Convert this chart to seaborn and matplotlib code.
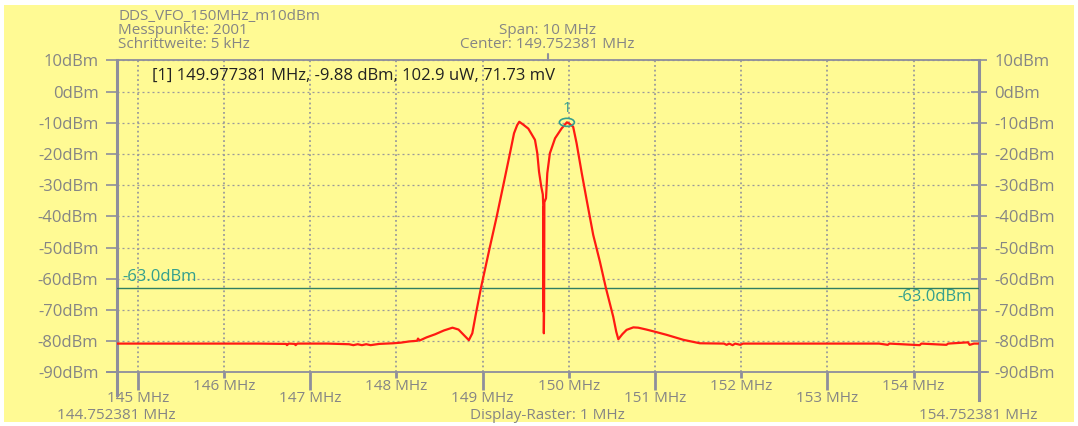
import matplotlib
matplotlib.use("Agg")
import matplotlib.pyplot as plt
from matplotlib.patches import Ellipse, Rectangle
import pandas as pd
import seaborn as sns

# Sweep settings
start_mhz = 144.752381
stop_mhz = 154.752381
center_mhz = 149.752381
title = "DDS_VFO_150MHz_m10dBm"
points_text = "Messpunkte: 2001"
step_text = "Schrittweite: 5 kHz"
span_text = "Span: 10 MHz"
center_text = "Center: 149.752381 MHz"
raster_text = "Display-Raster: 1 MHz"

# Measured trace (frequency in MHz, level in dBm)
freq_mhz = [
    144.752, 145.30, 145.90, 146.40, 146.72, 146.73, 146.75, 146.82, 146.83, 146.85,
    147.20, 147.45, 147.50, 147.55, 147.60, 147.65, 147.70, 147.80, 147.96, 148.05,
    148.15, 148.24, 148.25, 148.27, 148.35, 148.45, 148.55, 148.65, 148.72, 148.78,
    148.84, 148.88, 148.92, 148.98, 149.085, 149.163, 149.24, 149.317, 149.364, 149.40,
    149.425, 149.47, 149.53, 149.607, 149.634, 149.654, 149.68, 149.698, 149.703, 149.706,
    149.708, 149.710, 149.713, 149.716, 149.735, 149.75, 149.78, 149.84, 149.917, 149.955,
    149.977, 150.00, 150.05, 150.09, 150.15, 150.207, 150.283, 150.36, 150.43, 150.515,
    150.55, 150.574, 150.62, 150.67, 150.748, 150.805, 150.90, 151.00, 151.135, 151.33,
    151.52, 151.80, 151.83, 151.86, 151.90, 151.93, 151.99, 152.02, 152.50, 153.00,
    153.60, 153.70, 153.72, 154.07, 154.09, 154.38, 154.40, 154.63, 154.65, 154.70,
    154.752,
]
level_dbm = [
    -80.8, -80.8, -80.8, -80.8, -80.9, -81.3, -80.8, -80.9, -81.3, -80.8,
    -80.8, -81.0, -81.3, -81.0, -81.3, -81.0, -81.3, -80.9, -80.7, -80.5,
    -80.1, -79.9, -79.2, -79.8, -78.8, -77.8, -76.6, -75.7, -76.3, -78.0,
    -79.7, -77.5, -71.5, -63.0, -49.7, -40.1, -30.0, -19.8, -13.4, -10.8,
    -9.7, -10.6, -11.9, -15.5, -19.8, -25.7, -30.5, -33.0, -36.5, -70.5,
    -37.0, -77.5, -70.0, -35.5, -34.2, -26.2, -19.8, -15.0, -11.8, -10.6,
    -9.88, -10.2, -11.3, -16.6, -26.2, -34.8, -46.0, -54.5, -63.0, -72.2,
    -77.0, -79.4, -77.8, -76.4, -75.6, -75.7, -76.3, -77.0, -78.0, -79.6,
    -80.7, -80.8, -81.2, -80.8, -81.3, -80.8, -81.2, -80.8, -80.8, -80.8,
    -80.8, -81.2, -80.8, -81.3, -80.8, -81.2, -80.8, -80.4, -81.2, -80.8,
    -80.8,
]

# Marker and reference line
marker_freq = 149.977381
marker_level = -9.88
marker_text = "[1] 149.977381 MHz, -9.88 dBm, 102.9 uW, 71.73 mV"
ref_level = -63.0

# Axis ticks
y_ticks = [10, 0, -10, -20, -30, -40, -50, -60, -70, -80, -90]
y_labels = [f"{v}dBm" for v in y_ticks]
x_ticks_even = [146, 148, 150, 152, 154]
x_ticks_odd = [145, 147, 149, 151, 153]

BG = "#fffa94"
AXIS = "#8e8e9c"
TEXT = "#858585"
TEAL = "#35a08e"
REFLINE = "#2f7f62"
TRACE = "#ff1a12"

W, H = 1078, 426
sns.set_theme(style="white")
plt.rcParams["font.family"] = ["Open Sans", "DejaVu Sans"]
FS = 12
FS_HEAD = 11
FS_X = 11

fig = plt.figure(figsize=(W / 100, H / 100), dpi=100, facecolor="white")
fig.patches.append(Rectangle((4 / W, 4 / H), 1070 / W, 417 / H, transform=fig.transFigure,
                             facecolor=BG, edgecolor="none", zorder=-10))

left_px, right_px, top_px, bottom_px = 116.5, 978.5, 60.3, 372.3
ax = fig.add_axes([left_px / W, 1 - bottom_px / H, (right_px - left_px) / W, (bottom_px - top_px) / H])
ax.set_facecolor("none")

df = pd.DataFrame({"freq": freq_mhz, "level": level_dbm})
sns.lineplot(data=df, x="freq", y="level", ax=ax, color=TRACE, lw=1.6,
             sort=False, estimator=None, zorder=5)

ax.set_xlim(start_mhz, stop_mhz)
ax.set_ylim(-90, 10)
ax.set_xlabel("")
ax.set_ylabel("")

# Grid
ax.set_xticks(x_ticks_even)
ax.set_xticklabels([f"{v} MHz" for v in x_ticks_even])
ax.set_xticks(x_ticks_odd, minor=True)
ax.set_xticklabels([f"{v} MHz" for v in x_ticks_odd], minor=True)
ax.set_yticks(y_ticks)
ax.set_yticklabels(y_labels)
ax.grid(True, which="both", axis="x", color="#9a9a9a", lw=1.3, ls=(0, (1.0, 1.6)))
ax.grid(True, which="major", axis="y", color="#9a9a9a", lw=0.9, ls=(0, (1.6, 2.4)))

ax.tick_params(axis="x", which="major", direction="out", length=4, width=2.0,
               color=AXIS, labelcolor=TEXT, labelsize=FS_X, pad=1.0, bottom=True)
ax.tick_params(axis="x", which="minor", direction="out", length=13, width=2.0,
               color=AXIS, labelcolor=TEXT, labelsize=FS_X, pad=0.8, bottom=True)
ax.tick_params(axis="y", which="major", direction="out", length=8, width=1.2,
               color=AXIS, labelcolor=TEXT, labelsize=FS, pad=5, left=True)

# Right-hand level scale
sec = ax.secondary_yaxis("right")
sec.set_yticks(y_ticks)
sec.set_yticklabels(y_labels)
sec.tick_params(axis="y", direction="inout", length=11.5, width=1.2, color=AXIS,
                labelcolor=TEXT, labelsize=FS, pad=5.5)
sec.spines["right"].set_visible(False)

for name, sp in ax.spines.items():
    sp.set_visible(True)
    sp.set_color(AXIS)
    sp.set_linewidth(1.3)
ax.spines["left"].set_linewidth(2.2)
ax.spines["right"].set_linewidth(2.2)
ax.spines["left"].set_bounds(-97.3, 10)
ax.spines["right"].set_bounds(-98.9, 10)
ax.spines["bottom"].set_bounds(144.642, 154.862)

# Reference level
ax.axhline(ref_level, color=REFLINE, lw=1.0, zorder=4)
ax.text(start_mhz + 5.5 / 86.2, -59.5, "-63.0dBm", color=TEAL, fontsize=FS,
        ha="left", va="center")
ax.text(stop_mhz - 7.0 / 86.2, -65.8, "-63.0dBm", color=TEAL, fontsize=FS,
        ha="right", va="center")

# Marker 1
ax.add_patch(Ellipse((marker_freq, marker_level), width=15 / 86.2, height=8 / 3.12,
                     fill=False, edgecolor=TEAL, lw=1.2, zorder=6))
ax.text(marker_freq, -5.6, "1", color=TEAL, fontsize=11, ha="center", va="center")
ax.text(start_mhz + 35.5 / 86.2, 5.0, marker_text, color="#222222", fontsize=FS,
        ha="left", va="center")

# Center marker on the top edge
ax.plot([center_mhz, center_mhz], [10, 12], color=AXIS, lw=1.5, clip_on=False)

# Header and footer
def ftext(x, y, s, ha="left", size=FS):
    fig.text(x / W, 1 - y / H, s, color=TEXT, fontsize=size, ha=ha, va="center")

ftext(118, 17, title, size=FS_HEAD)
ftext(118, 31, points_text, size=FS_HEAD)
ftext(118, 45, step_text, size=FS_HEAD)
ftext(547.5, 31, span_text, ha="center", size=FS_HEAD)
ftext(547.5, 45, center_text, ha="center", size=FS_HEAD)
ftext(116.5, 415.5, f"{start_mhz:.6f} MHz", ha="center", size=FS_X)
ftext(547.5, 415.5, raster_text, ha="center", size=FS_X)
ftext(978.5, 415.5, f"{stop_mhz:.6f} MHz", ha="center", size=FS_X)

fig.savefig("out.png", dpi=100, facecolor="white")
